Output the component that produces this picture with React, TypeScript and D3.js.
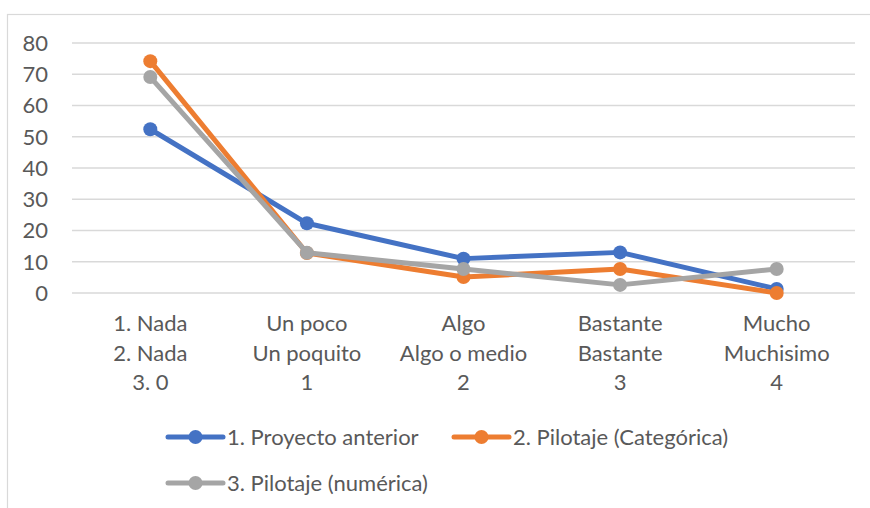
import React from "react";
import * as d3 from "d3";

const categories: string[][] = [
  ["1. Nada", "2. Nada", "3. 0"],
  ["Un poco", "Un poquito", "1"],
  ["Algo", "Algo o medio", "2"],
  ["Bastante", "Bastante", "3"],
  ["Mucho", "Muchisimo", "4"],
];

const seriesNames = [
  "1. Proyecto anterior",
  "2. Pilotaje (Categórica)",
  "3. Pilotaje (numérica)",
];
const proyectoAnterior = [52.4, 22.3, 11.0, 13.0, 1.3];
const pilotajeCategorica = [74.2, 12.8, 5.1, 7.7, 0];
const pilotajeNumerica = [69.1, 12.9, 7.7, 2.6, 7.7];
const yTicks = [0, 10, 20, 30, 40, 50, 60, 70, 80];

const colors = ["#4472c4", "#ed7d31", "#a5a5a5"];
const FONT = "Lato, 'Open Sans', sans-serif";
const TEXT = "#595959";
const FS = 22;

export default function App() {
  const width = 870;
  const height = 508;
  const left = 72;
  const right = 855;
  const top = 43;
  const bottom = 293;

  const x = d3
    .scaleBand<number>()
    .domain(d3.range(categories.length))
    .range([left, right]);
  const y = d3.scaleLinear().domain([0, 80]).range([bottom, top]);
  const cx = (i: number) => (x(i) as number) + x.bandwidth() / 2;

  const series = [proyectoAnterior, pilotajeCategorica, pilotajeNumerica];
  const line = d3
    .line<number>()
    .x((_, i) => cx(i))
    .y((d) => y(d));

  const legend = [
    { x: 168, y: 437 },
    { x: 454, y: 437 },
    { x: 168, y: 483 },
  ];

  return (
    <svg
      width={width}
      height={height}
      style={{ position: "absolute", left: 0, top: 0, background: "#fff" }}
    >
      <rect x={7.5} y={14.5} width={900} height={600} fill="#fff" stroke="#d9d9d9" strokeWidth={1.2} />
      {yTicks.map((t) => (
        <g key={t}>
          <line x1={left} x2={right} y1={y(t)} y2={y(t)} stroke="#d9d9d9" strokeWidth={1.3} />
          <text
            x={48}
            y={y(t)}
            dy="0.36em"
            textAnchor="end"
            fontFamily={FONT}
            fontSize={FS}
            fill={TEXT}
          >
            {t}
          </text>
        </g>
      ))}
      {categories.map((lines, i) => (
        <text key={i} textAnchor="middle" fontFamily={FONT} fontSize={FS} fill={TEXT}>
          {lines.map((l, j) => (
            <tspan key={j} x={cx(i)} y={331 + j * 29.5}>
              {l}
            </tspan>
          ))}
        </text>
      ))}
      {series.map((vals, s) => (
        <g key={s}>
          <path
            d={line(vals) || ""}
            fill="none"
            stroke={colors[s]}
            strokeWidth={5}
            strokeLinejoin="round"
            strokeLinecap="round"
          />
          {vals.map((v, i) => (
            <circle key={i} cx={cx(i)} cy={y(v)} r={7} fill={colors[s]} />
          ))}
        </g>
      ))}
      {seriesNames.map((name, s) => (
        <g key={name}>
          <line
            x1={legend[s].x}
            x2={legend[s].x + 55}
            y1={legend[s].y}
            y2={legend[s].y}
            stroke={colors[s]}
            strokeWidth={5}
            strokeLinecap="round"
          />
          <circle cx={legend[s].x + 27.5} cy={legend[s].y} r={7} fill={colors[s]} />
          <text
            x={legend[s].x + 59}
            y={legend[s].y}
            dy="0.36em"
            fontFamily={FONT}
            fontSize={FS}
            fill={TEXT}
          >
            {name}
          </text>
        </g>
      ))}
    </svg>
  );
}
